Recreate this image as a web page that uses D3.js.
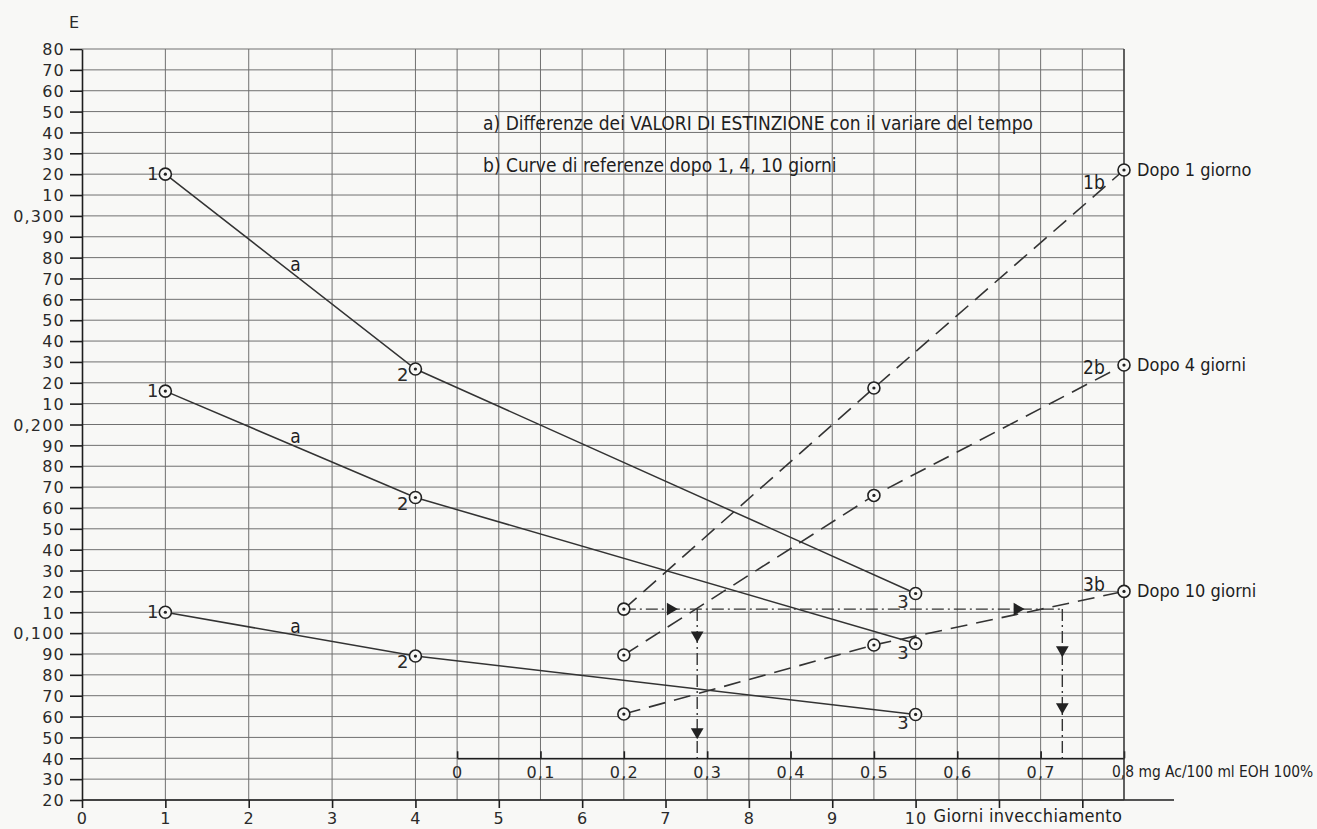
<!DOCTYPE html>
<html lang="it">
<head>
<meta charset="UTF-8"/>
<title>Valori di estinzione</title>
<script src="https://d3js.org/d3.v7.min.js"></script>
<style>
    body { margin: 0; background: #f8f8f6; }
    svg { display: block; }
    .grid line { stroke: #707070; stroke-width: 1; }
    .axis path, .axis line { stroke: #1e1e1e; stroke-width: 1.6; }
    .axis text, .num { font-family: "DejaVu Sans", sans-serif; font-size: 16px; letter-spacing: 1.2px; fill: #2a2a2a; }
    .lbl { font-family: "Liberation Sans Narrow", "DejaVu Sans Condensed", sans-serif; fill: #1e1e1e; }
    .lineA { fill: none; stroke: #333; stroke-width: 1.5; }
    .lineB { fill: none; stroke: #333; stroke-width: 1.6; stroke-dasharray: 17 9; }
    .guide { fill: none; stroke: #333; stroke-width: 1.4; stroke-dasharray: 12 4 2 4; }
</style>
</head>
<body>
<div id="chart"></div>
<script>
// giorni di invecchiamento (curve a)
var days = [1, 4, 10];
var curveA1 = [0.320, 0.2266, 0.119];
var curveA2 = [0.216, 0.165, 0.095];
var curveA3 = [0.110, 0.089, 0.061];
var pointNames = ["1", "2", "3"];

// mg Ac/100 ml (curve b)
var conc = [0.2, 0.5, 0.8];
var curveB1 = [0.1115, 0.2175, 0.322];
var curveB2 = [0.0895, 0.166, 0.2285];
var curveB3 = [0.0612, 0.0943, 0.120];
var curveBNames = ["1b", "2b", "3b"];
var curveBLabels = ["Dopo 1 giorno", "Dopo 4 giorni", "Dopo 10 giorni"];

// linee di lettura (tratto-punto)
var readE = 0.1115;
var readMg = [0.288, 0.726];
var hArrowMg = [0.256, 0.672];
var vArrowE = [[0.099, 0.0526], [0.0919, 0.0646]];

// assi
var eTicks = d3.range(20, 381, 10).map(d => d / 1000);
var dayTicks = d3.range(0, 13);
var mgTicks = d3.range(0, 9).map(d => d / 10);
var gridDays = [1, 2, 3, 4].concat(d3.range(9, 26).map(d => d / 2));
var legendA = "a)  Differenze dei VALORI DI ESTINZIONE con il variare del tempo";
var legendB = "b)  Curve di referenze dopo 1, 4, 10 giorni";

var w = 1317, h = 829;

var x = d3.scaleLinear().domain([0, 12.5]).range([82, 1124]);
var xmg = d3.scaleLinear().domain([0, 0.8]).range([x(4.5), x(12.5)]);
var y = d3.scaleLinear().domain([0.02, 0.38]).range([800, 49]);

var svg = d3.select("#chart").append("svg")
    .attr("width", w)
    .attr("height", h);

// griglia
var grid = svg.append("g").attr("class", "grid");
grid.selectAll(".h").data(eTicks).enter().append("line")
    .attr("x1", x(0)).attr("x2", x(12.5))
    .attr("y1", d => y(d)).attr("y2", d => y(d));
grid.selectAll(".v").data(gridDays).enter().append("line")
    .attr("x1", d => x(d)).attr("x2", d => x(d))
    .attr("y1", y(0.38)).attr("y2", y(0.02));

// asse E
var yAxis = d3.axisLeft(y)
    .tickValues(eTicks)
    .tickSizeInner(12).tickSizeOuter(0).tickPadding(5)
    .tickFormat(d => {
        let m = Math.round(d * 1000);
        return m % 100 === 0 ? "0," + m : String(m % 100);
    });
svg.append("g").attr("class", "axis")
    .attr("transform", `translate(${x(0)},0)`)
    .call(yAxis)
    .call(g => g.attr("font-family", null).attr("font-size", null))
    .call(g => g.selectAll("text").attr("dy", "0.36em"));

// asse giorni
var xAxis = d3.axisBottom(x)
    .tickValues(dayTicks)
    .tickSizeInner(8).tickSizeOuter(0).tickPadding(5)
    .tickFormat(d => d <= 10 ? d : "");
var gx = svg.append("g").attr("class", "axis")
    .attr("transform", `translate(0,${y(0.02)})`)
    .call(xAxis)
    .call(g => g.attr("font-family", null).attr("font-size", null));
gx.select(".domain").attr("d", `M${x(0)},0H${x(12.5) + 50}`);
svg.append("text").attr("class", "lbl")
    .attr("x", x(10) + 18).attr("y", y(0.02) + 22)
    .style("font-size", "18px").style("letter-spacing", "0.3px")
    .text("Giorni invecchiamento");

// asse mg
var mgAxis = d3.axisBottom(xmg)
    .tickValues(mgTicks)
    .tickSizeInner(-7).tickSizeOuter(0).tickPadding(8)
    .tickFormat(d => d === 0 ? "0" : d < 0.75 ? d3.format(".1f")(d).replace(".", ",") : "");
svg.append("g").attr("class", "axis")
    .attr("transform", `translate(0,${y(0.04)})`)
    .call(mgAxis)
    .call(g => g.attr("font-family", null).attr("font-size", null));
svg.append("text").attr("class", "lbl")
    .attr("x", xmg(0.8) - 12).attr("y", y(0.04) + 19)
    .style("font-size", "15.4px")
    .text("0,8 mg Ac/100 ml EOH 100%");

// asse verticale destro e titolo
svg.append("line")
    .attr("x1", x(12.5)).attr("x2", x(12.5))
    .attr("y1", y(0.38)).attr("y2", y(0.02))
    .attr("stroke", "#333").attr("stroke-width", 1.3);
svg.append("text").attr("class", "num")
    .attr("x", 69).attr("y", 28)
    .text("E");

// legenda
svg.append("text").attr("class", "lbl")
    .attr("x", xmg(0) + 26).attr("y", y(0.344) + 6)
    .attr("font-size", 19)
    .text(legendA);
svg.append("text").attr("class", "lbl")
    .attr("x", xmg(0) + 26).attr("y", y(0.324) + 6)
    .attr("font-size", 19)
    .text(legendB);

var line = d3.line();

// curve a
var curvesA = [curveA1, curveA2, curveA3];
curvesA.forEach(vals => {
    let pts = days.map((d, i) => [x(d), y(vals[i])]);
    svg.append("path").attr("class", "lineA").attr("d", line(pts));
    let mx = (pts[0][0] + pts[1][0]) / 2, my = (pts[0][1] + pts[1][1]) / 2;
    svg.append("text").attr("class", "lbl")
        .attr("x", mx + 5).attr("y", my - 1)
        .attr("font-size", 19).attr("text-anchor", "middle")
        .text("a");
    pts.forEach((p, i) => {
        svg.append("text").attr("class", "num")
            .attr("x", p[0] - 7)
            .attr("y", p[1] + (i === 0 ? 6 : i === 1 ? 12 : 15))
            .style("font-size", "18px").style("letter-spacing", "0px")
            .attr("text-anchor", "end")
            .text(pointNames[i]);
    });
});

// curve b
var curvesB = [curveB1, curveB2, curveB3];
curvesB.forEach((vals, k) => {
    let pts = conc.map((c, i) => [xmg(c), y(vals[i])]);
    svg.append("path").attr("class", "lineB").attr("d", line(pts));
    let lx = xmg(0.764);
    let ly = y(vals[1] + (vals[2] - vals[1]) * (0.764 - 0.5) / 0.3);
    svg.append("text").attr("class", "lbl")
        .attr("x", lx).attr("y", ly - 7)
        .attr("font-size", 19).attr("text-anchor", "middle")
        .text(curveBNames[k]);
    svg.append("text").attr("class", "lbl")
        .attr("x", pts[2][0] + 13).attr("y", pts[2][1] + 6)
        .attr("font-size", 18)
        .text(curveBLabels[k]);
});

// linee di lettura
svg.append("path").attr("class", "guide")
    .attr("d", line([[xmg(0.2), y(readE)], [xmg(readMg[1]), y(readE)]]));
readMg.forEach(m => {
    svg.append("path").attr("class", "guide")
        .attr("d", line([[xmg(m), y(readE)], [xmg(m), y(0.04)]]));
});
var tri = d3.symbol().type(d3.symbolTriangle).size(70);
hArrowMg.forEach(m => {
    svg.append("path").attr("d", tri).attr("fill", "#222")
        .attr("transform", `translate(${xmg(m)},${y(readE)}) rotate(90)`);
});
vArrowE.forEach((es, k) => {
    es.forEach(e => {
        svg.append("path").attr("d", tri).attr("fill", "#222")
            .attr("transform", `translate(${xmg(readMg[k])},${y(e)}) rotate(180)`);
    });
});

// punti
var allPts = [];
curvesA.forEach(vals => days.forEach((d, i) => allPts.push([x(d), y(vals[i])])));
curvesB.forEach(vals => conc.forEach((c, i) => allPts.push([xmg(c), y(vals[i])])));
var marks = svg.append("g");
marks.selectAll("circle.o").data(allPts).enter().append("circle")
    .attr("cx", d => d[0]).attr("cy", d => d[1]).attr("r", 6)
    .attr("fill", "#f8f8f6").attr("stroke", "#222").attr("stroke-width", 1.6);
marks.selectAll("circle.c").data(allPts).enter().append("circle")
    .attr("cx", d => d[0]).attr("cy", d => d[1]).attr("r", 1.6)
    .attr("fill", "#222");
</script>
</body>
</html>
